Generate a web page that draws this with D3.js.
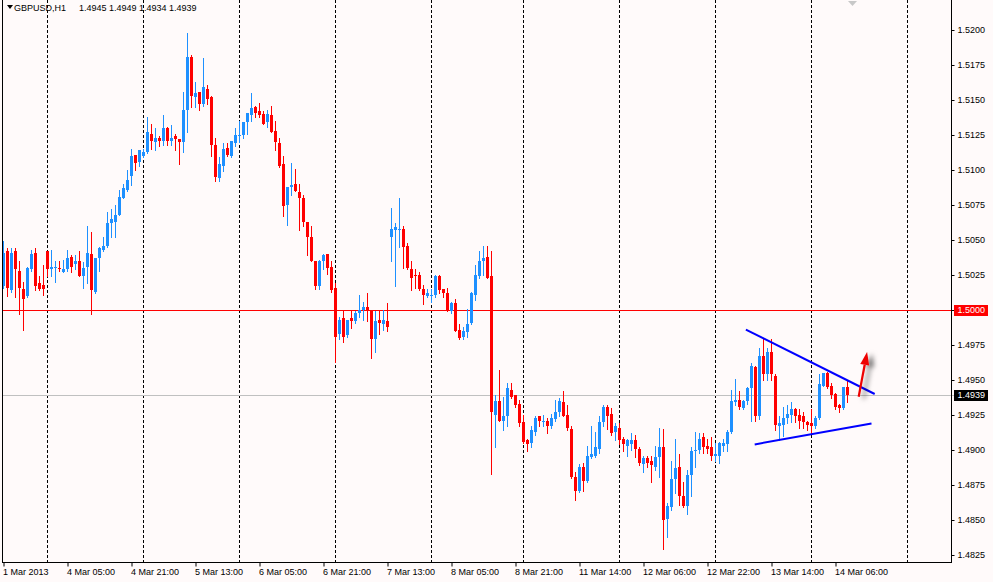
<!DOCTYPE html>
<html>
<head>
<meta charset="utf-8">
<script src="https://cdn.jsdelivr.net/npm/d3@7"></script>
<style>
  body { margin: 0; background: #fffafa; }
  svg { display: block; }
  text { font-family: "Liberation Sans", Arial, sans-serif; font-size: 9px; fill: #000; }
</style>
</head>
<body>
<svg id="chart"></svg>
<script>
const symbol = "GBPUSD,H1";
const quote = ["1.4945", "1.4949", "1.4934", "1.4939"];

// hourly bars, [open, high, low, close]
const ohlc = [
  [1.5017,1.5049,1.5016,1.5041],[1.5042,1.5044,1.5010,1.5016],[1.5014,1.5044,1.5013,1.5041],[1.5042,1.5044,1.5009,1.5029],
  [1.5028,1.5035,1.4997,1.5016],[1.5015,1.5020,1.4986,1.5008],[1.5010,1.5031,1.5009,1.5030],[1.5029,1.5043,1.5028,1.5040],
  [1.5041,1.5044,1.5014,1.5017],[1.5019,1.5024,1.5014,1.5015],[1.5018,1.5032,1.5011,1.5015],[1.5042,1.5042,1.5024,1.5029],
  [1.5029,1.5043,1.5024,1.5031],[1.5030,1.5035,1.5020,1.5031],[1.5030,1.5035,1.5028,1.5029],[1.5027,1.5036,1.5027,1.5029],
  [1.5029,1.5043,1.5028,1.5037],[1.5038,1.5039,1.5027,1.5031],[1.5033,1.5039,1.5029,1.5035],[1.5035,1.5042,1.5024,1.5024],
  [1.5024,1.5034,1.5016,1.5030],[1.5031,1.5060,1.5019,1.5041],[1.5040,1.5056,1.4997,1.5014],[1.5013,1.5037,1.5012,1.5037],
  [1.5037,1.5045,1.5028,1.5044],[1.5043,1.5052,1.5042,1.5046],[1.5046,1.5070,1.5045,1.5062],[1.5062,1.5072,1.5052,1.5065],
  [1.5063,1.5075,1.5052,1.5068],[1.5068,1.5086,1.5068,1.5081],[1.5080,1.5090,1.5080,1.5087],[1.5086,1.5100,1.5085,1.5093],
  [1.5096,1.5115,1.5089,1.5110],[1.5111,1.5111,1.5100,1.5105],[1.5106,1.5114,1.5103,1.5114],[1.5110,1.5115,1.5109,1.5113],
  [1.5113,1.5138,1.5112,1.5127],[1.5126,1.5133,1.5115,1.5121],[1.5120,1.5130,1.5114,1.5123],[1.5123,1.5124,1.5117,1.5121],
  [1.5121,1.5139,1.5118,1.5130],[1.5130,1.5131,1.5118,1.5121],[1.5121,1.5132,1.5118,1.5123],[1.5124,1.5126,1.5114,1.5122],
  [1.5122,1.5122,1.5104,1.5120],[1.5120,1.5156,1.5113,1.5143],[1.5143,1.5198,1.5127,1.5181],[1.5181,1.5182,1.5145,1.5153],
  [1.5152,1.5163,1.5145,1.5155],[1.5156,1.5156,1.5143,1.5147],[1.5147,1.5180,1.5146,1.5159],[1.5158,1.5161,1.5147,1.5151],
  [1.5152,1.5153,1.5110,1.5118],[1.5118,1.5123,1.5092,1.5095],[1.5094,1.5109,1.5092,1.5104],[1.5103,1.5119,1.5099,1.5115],
  [1.5116,1.5119,1.5110,1.5111],[1.5110,1.5121,1.5109,1.5121],[1.5119,1.5130,1.5117,1.5125],[1.5124,1.5135,1.5120,1.5125],
  [1.5125,1.5134,1.5123,1.5134],[1.5134,1.5141,1.5126,1.5141],[1.5139,1.5155,1.5135,1.5144],[1.5145,1.5146,1.5138,1.5141],
  [1.5142,1.5148,1.5138,1.5139],[1.5140,1.5142,1.5133,1.5133],[1.5134,1.5143,1.5131,1.5140],[1.5139,1.5146,1.5127,1.5127],
  [1.5128,1.5135,1.5114,1.5120],[1.5119,1.5123,1.5102,1.5103],[1.5104,1.5110,1.5067,1.5074],[1.5075,1.5088,1.5061,1.5088],
  [1.5088,1.5105,1.5082,1.5089],[1.5090,1.5101,1.5085,1.5085],[1.5084,1.5090,1.5057,1.5080],[1.5080,1.5082,1.5060,1.5063],
  [1.5063,1.5063,1.5039,1.5052],[1.5052,1.5060,1.5035,1.5035],[1.5035,1.5035,1.5015,1.5017],[1.5017,1.5036,1.5015,1.5035],
  [1.5035,1.5040,1.5029,1.5039],[1.5040,1.5040,1.5026,1.5030],[1.5031,1.5035,1.5013,1.5014],[1.5016,1.5019,1.4963,1.4981],
  [1.4983,1.4995,1.4979,1.4993],[1.4994,1.4999,1.4977,1.4981],[1.4982,1.4993,1.4981,1.4993],[1.4994,1.4999,1.4987,1.4992],
  [1.4992,1.4999,1.4991,1.4998],[1.4998,1.5011,1.4995,1.5000],[1.5000,1.5006,1.4993,1.5002],[1.5002,1.5012,1.4992,1.4999],
  [1.4999,1.5000,1.4966,1.4979],[1.4979,1.4999,1.4970,1.4992],[1.4993,1.5000,1.4983,1.4991],[1.4990,1.5000,1.4986,1.4993],
  [1.4992,1.5005,1.4985,1.4988],[1.5052,1.5073,1.5035,1.5058],[1.5057,1.5062,1.5017,1.5059],[1.5057,1.5080,1.5045,1.5058],
  [1.5058,1.5060,1.5030,1.5045],[1.5046,1.5048,1.5029,1.5030],[1.5029,1.5035,1.5014,1.5023],[1.5025,1.5029,1.5016,1.5024],
  [1.5025,1.5027,1.5014,1.5015],[1.5015,1.5018,1.5004,1.5011],[1.5010,1.5015,1.5009,1.5012],[1.5010,1.5015,1.5006,1.5011],
  [1.5011,1.5025,1.5009,1.5024],[1.5024,1.5025,1.5012,1.5014],[1.5015,1.5015,1.5009,1.5012],[1.5012,1.5016,1.4999,1.5000],
  [1.4999,1.5006,1.4998,1.5005],[1.5005,1.5008,1.4985,1.4985],[1.4986,1.4990,1.4979,1.4980],[1.4981,1.4988,1.4979,1.4985],
  [1.4984,1.5001,1.4981,1.4990],[1.4991,1.5013,1.4990,1.5012],[1.5011,1.5032,1.5007,1.5025],[1.5024,1.5042,1.5023,1.5035],
  [1.5035,1.5046,1.5025,1.5037],[1.5038,1.5046,1.5023,1.5023],[1.5024,1.5042,1.4883,1.4927],[1.4925,1.4939,1.4902,1.4935],
  [1.4935,1.4957,1.4921,1.4921],[1.4921,1.4938,1.4914,1.4924],[1.4924,1.4948,1.4917,1.4944],[1.4943,1.4948,1.4937,1.4938],
  [1.4939,1.4939,1.4931,1.4932],[1.4933,1.4936,1.4917,1.4919],[1.4920,1.4925,1.4905,1.4906],[1.4907,1.4908,1.4899,1.4904],
  [1.4905,1.4917,1.4902,1.4914],[1.4913,1.4924,1.4911,1.4923],[1.4924,1.4924,1.4917,1.4921],[1.4920,1.4925,1.4917,1.4921],
  [1.4921,1.4923,1.4912,1.4917],[1.4917,1.4926,1.4916,1.4923],[1.4922,1.4936,1.4921,1.4927],[1.4927,1.4937,1.4924,1.4935],
  [1.4934,1.4942,1.4924,1.4924],[1.4925,1.4932,1.4914,1.4916],[1.4915,1.4917,1.4880,1.4881],[1.4881,1.4884,1.4864,1.4871],
  [1.4871,1.4890,1.4870,1.4888],[1.4888,1.4891,1.4871,1.4878],[1.4878,1.4903,1.4877,1.4896],[1.4895,1.4917,1.4894,1.4897],
  [1.4896,1.4913,1.4895,1.4902],[1.4901,1.4924,1.4898,1.4920],[1.4920,1.4932,1.4917,1.4931],[1.4931,1.4932,1.4915,1.4924],
  [1.4926,1.4930,1.4911,1.4912],[1.4913,1.4919,1.4907,1.4917],[1.4916,1.4919,1.4904,1.4907],[1.4908,1.4909,1.4899,1.4904],
  [1.4903,1.4908,1.4896,1.4907],[1.4904,1.4912,1.4900,1.4907],[1.4907,1.4911,1.4895,1.4901],[1.4901,1.4902,1.4889,1.4891],
  [1.4890,1.4896,1.4884,1.4894],[1.4894,1.4896,1.4888,1.4891],[1.4892,1.4896,1.4877,1.4889],[1.4888,1.4903,1.4886,1.4895],
  [1.4895,1.4916,1.4881,1.4902],[1.4902,1.4915,1.4829,1.4850],[1.4851,1.4862,1.4838,1.4860],[1.4859,1.4892,1.4857,1.4879],
  [1.4879,1.4908,1.4869,1.4887],[1.4888,1.4897,1.4861,1.4867],[1.4867,1.4877,1.4859,1.4860],[1.4860,1.4886,1.4854,1.4882],
  [1.4882,1.4902,1.4867,1.4899],[1.4899,1.4913,1.4888,1.4900],[1.4900,1.4912,1.4898,1.4908],[1.4909,1.4912,1.4898,1.4902],
  [1.4903,1.4908,1.4898,1.4901],[1.4902,1.4909,1.4893,1.4896],[1.4896,1.4905,1.4892,1.4897],[1.4896,1.4906,1.4891,1.4905],
  [1.4903,1.4908,1.4899,1.4905],[1.4904,1.4914,1.4899,1.4913],[1.4913,1.4943,1.4912,1.4935],[1.4934,1.4951,1.4932,1.4936],
  [1.4936,1.4942,1.4929,1.4931],[1.4930,1.4936,1.4929,1.4935],[1.4935,1.4945,1.4933,1.4944],[1.4944,1.4962,1.4921,1.4960],
  [1.4959,1.4960,1.4921,1.4924],[1.4924,1.4973,1.4922,1.4967],[1.4967,1.4980,1.4950,1.4954],[1.4954,1.4973,1.4950,1.4970],
  [1.4970,1.4979,1.4950,1.4954],[1.4953,1.4954,1.4914,1.4918],[1.4917,1.4924,1.4907,1.4919],[1.4918,1.4931,1.4910,1.4923],
  [1.4923,1.4932,1.4919,1.4926],[1.4925,1.4934,1.4920,1.4929],[1.4929,1.4930,1.4920,1.4924],[1.4925,1.4929,1.4916,1.4921],
  [1.4924,1.4927,1.4916,1.4920],[1.4920,1.4921,1.4914,1.4918],[1.4919,1.4929,1.4912,1.4917],[1.4917,1.4924,1.4916,1.4923],
  [1.4923,1.4954,1.4922,1.4947],[1.4946,1.4955,1.4946,1.4955],[1.4955,1.4956,1.4944,1.4945],[1.4946,1.4948,1.4937,1.4939],
  [1.4940,1.4941,1.4929,1.4931],[1.4932,1.4933,1.4927,1.4930],[1.4930,1.4945,1.4929,1.4945],[1.4945,1.4949,1.4934,1.4939]
];

const timeLabels = ["1 Mar 2013", "4 Mar 05:00", "4 Mar 21:00", "5 Mar 13:00", "6 Mar 05:00", "6 Mar 21:00", "7 Mar 13:00",
  "8 Mar 05:00", "8 Mar 21:00", "11 Mar 14:00", "12 Mar 06:00", "12 Mar 22:00", "13 Mar 14:00", "14 Mar 06:00"];
const labelStep = 16; // one time label every 16 bars
const gridBars = [11, 35, 59, 83, 107, 130, 154, 178, 202, 226];
const priceTicks = [1.4825, 1.4850, 1.4875, 1.4900, 1.4925, 1.4950, 1.4975, 1.5000,
  1.5025, 1.5050, 1.5075, 1.5100, 1.5125, 1.5150, 1.5175, 1.5200];

const levelPrice = 1.5000;
const bidPrice = 1.4939;
// drawn objects: [bar index, price]
const upperTrend = [[185.6, 1.4986], [217.8, 1.4940]];
const lowerTrend = [[187.8, 1.4904], [217.0, 1.4919]];
const arrowLine = [[213.8, 1.4938], [215.9, 1.4970]];

class CandleChart {
  constructor(_config, _data) {
    this.config = {
      parentElement: _config.parentElement,
      containerWidth: _config.containerWidth || 993,
      containerHeight: _config.containerHeight || 582,
      plotRight: 951,
      plotBottom: 562
    }
    this.data = _data;
    this.initVis();
  }

  initVis() {
    let vis = this;
    vis.svg = d3.select(vis.config.parentElement)
        .attr('width', vis.config.containerWidth)
        .attr('height', vis.config.containerHeight);

    vis.svg.append('rect')
        .attr('width', vis.config.containerWidth)
        .attr('height', vis.config.containerHeight)
        .attr('fill', '#fffafa');

    // 4px per bar, bar 0 sits at x=3.5
    vis.xScale = d3.scaleLinear()
        .domain([0, 1])
        .range([3.5, 7.5]);

    vis.yScale = d3.scaleLinear()
        .domain([1.4825, 1.5200])
        .range([555, 30]);

    vis.defs = vis.svg.append('defs');
    vis.defs.append('filter')
        .attr('id', 'shadow')
        .attr('x', '-100%').attr('y', '-50%')
        .attr('width', '300%').attr('height', '200%')
      .append('feDropShadow')
        .attr('dx', 5).attr('dy', 2)
        .attr('stdDeviation', 2.5)
        .attr('flood-color', '#000')
        .attr('flood-opacity', 0.55);

    vis.renderVis();
  }

  renderVis() {
    let vis = this;
    const x = vis.xScale, y = vis.yScale;
    const right = vis.config.plotRight, bottom = vis.config.plotBottom;

    // dashed grid
    vis.svg.append('g').selectAll('line')
      .data(gridBars)
      .join('line')
        .attr('x1', d => x(d)).attr('x2', d => x(d))
        .attr('y1', 0).attr('y2', bottom)
        .attr('stroke', '#000')
        .attr('stroke-dasharray', '3,2')
        .attr('shape-rendering', 'crispEdges');

    // horizontal level + bid line
    vis.svg.append('line')
        .attr('x1', 2).attr('x2', 954)
        .attr('y1', Math.round(y(bidPrice)) + 0.5).attr('y2', Math.round(y(bidPrice)) + 0.5)
        .attr('stroke', '#c0c0c0')
        .attr('shape-rendering', 'crispEdges');
    vis.svg.append('line')
        .attr('x1', 2).attr('x2', 954)
        .attr('y1', Math.round(y(levelPrice)) + 0.5).attr('y2', Math.round(y(levelPrice)) + 0.5)
        .attr('stroke', '#ff0000')
        .attr('shape-rendering', 'crispEdges');

    // candles
    const candles = vis.svg.append('g')
        .attr('shape-rendering', 'crispEdges')
      .selectAll('g')
      .data(vis.data)
      .join('g')
        .attr('fill', d => d[3] >= d[0] ? '#1e90ff' : '#ff0000')
        .attr('stroke', d => d[3] >= d[0] ? '#1e90ff' : '#ff0000');

    candles.append('line')
        .attr('x1', (d, i) => x(i)).attr('x2', (d, i) => x(i))
        .attr('y1', d => Math.round(y(d[1])))
        .attr('y2', d => Math.round(y(d[2])) + 1);

    candles.append('rect')
        .attr('stroke', 'none')
        .attr('x', (d, i) => x(i) - 1.5)
        .attr('width', 3)
        .attr('y', d => Math.round(y(Math.max(d[0], d[3]))))
        .attr('height', d => Math.max(1, Math.round(y(Math.min(d[0], d[3]))) - Math.round(y(Math.max(d[0], d[3])))));

    // trend lines
    const line = d3.line().x(d => x(d[0])).y(d => y(d[1]));
    vis.svg.append('g').selectAll('path')
      .data([upperTrend, lowerTrend])
      .join('path')
        .attr('d', line)
        .attr('fill', 'none')
        .attr('stroke', '#0000ff')
        .attr('stroke-width', 2);

    // arrow
    const a0 = [x(arrowLine[0][0]), y(arrowLine[0][1])];
    const a1 = [x(arrowLine[1][0]), y(arrowLine[1][1])];
    const len = Math.hypot(a1[0] - a0[0], a1[1] - a0[1]);
    const ux = (a1[0] - a0[0]) / len, uy = (a1[1] - a0[1]) / len;
    const hb = [a1[0] - ux * 13, a1[1] - uy * 13];
    const arrow = vis.svg.append('g').attr('filter', 'url(#shadow)');
    arrow.append('line')
        .attr('x1', a0[0]).attr('y1', a0[1])
        .attr('x2', hb[0]).attr('y2', hb[1])
        .attr('stroke', '#ee0000')
        .attr('stroke-width', 2.2);
    arrow.append('polygon')
        .attr('points', [a1, [hb[0] - uy * 4.5, hb[1] + ux * 4.5], [hb[0] + uy * 4.5, hb[1] - ux * 4.5]].map(p => p.join(',')).join(' '))
        .attr('fill', '#ee0000');

    // frame
    vis.svg.append('path')
        .attr('d', `M2.5,0V${bottom + 0.5}H${right + 0.5}V0`)
        .attr('fill', 'none')
        .attr('stroke', '#000')
        .attr('shape-rendering', 'crispEdges');

    // price axis
    vis.svg.append('g')
        .attr('transform', `translate(${right + 0.5},0)`)
        .call(d3.axisRight(y).tickValues(priceTicks).tickFormat(d3.format('.4f')).tickSize(3).tickSizeOuter(0).tickPadding(3))
        .call(g => g.select('.domain').remove())
        .call(g => g.selectAll('text').attr('font-family', null).attr('font-size', null));

    // time axis
    vis.svg.append('g')
        .attr('transform', `translate(0,${bottom + 0.5})`)
        .call(d3.axisBottom(x).tickValues(timeLabels.map((d, i) => i * labelStep)).tickFormat((d, i) => timeLabels[i]).tickSize(4).tickSizeOuter(0).tickPadding(2))
        .call(g => g.select('.domain').remove())
        .call(g => g.selectAll('text').attr('font-family', null).attr('font-size', null)
            .attr('text-anchor', 'start').attr('dx', -1));

    // price labels on the axis
    const tags = [[levelPrice, '#ff0000'], [bidPrice, '#000000']];
    tags.forEach(t => {
      const ty = Math.round(y(t[0]));
      vis.svg.append('rect')
          .attr('x', 954).attr('y', ty - 5)
          .attr('width', 34).attr('height', 11)
          .attr('fill', t[1]);
      vis.svg.append('text')
          .attr('x', 957.5).attr('y', ty + 0.5)
          .attr('dy', '0.32em')
          .style('fill', '#fff')
          .text(d3.format('.4f')(t[0]));
    });

    // header
    vis.svg.append('path')
        .attr('d', 'M7,5H13L10,9Z')
        .attr('fill', '#000');
    vis.svg.append('text')
        .attr('x', 14).attr('y', 11)
        .text(symbol);
    vis.svg.append('text')
        .attr('x', 79).attr('y', 11)
        .text(quote.join(' '));

    // chart shift marker
    vis.svg.append('path')
        .attr('d', 'M848,1H857L852.5,6Z')
        .attr('fill', '#c8c8c8');
  }
}

new CandleChart({ parentElement: '#chart' }, ohlc);
</script>
</body>
</html>
